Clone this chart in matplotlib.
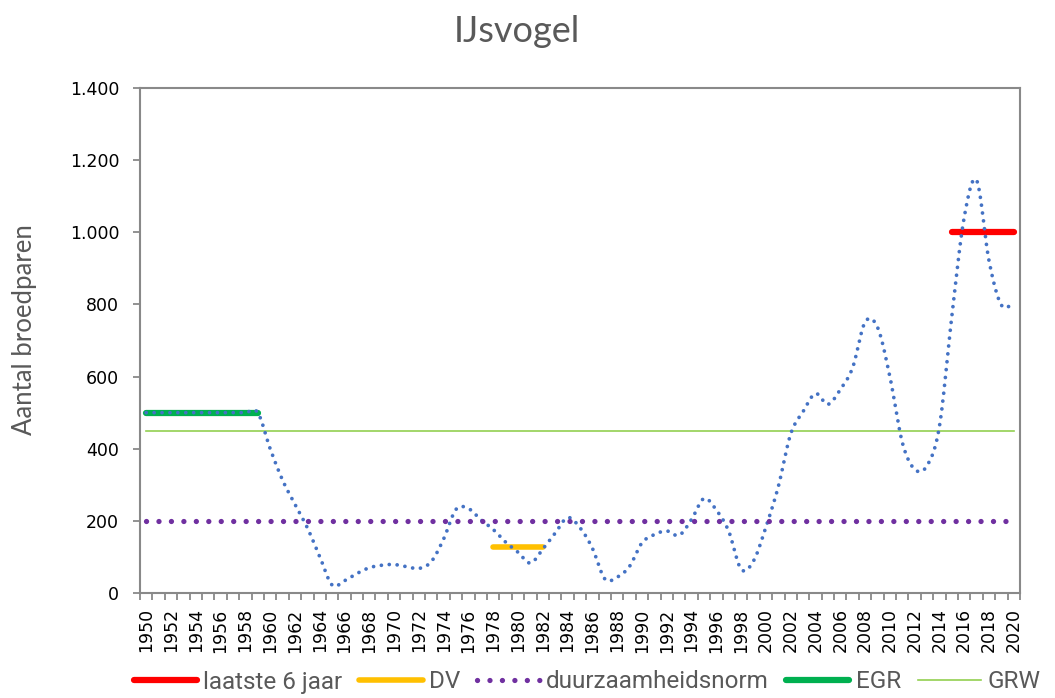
import matplotlib
matplotlib.use('Agg')
import matplotlib.pyplot as plt
from matplotlib.ticker import FuncFormatter, MultipleLocator
import numpy as np

# -------------------------------------------------------------
# data
# -------------------------------------------------------------
years = np.arange(1950, 2021)
broedparen = np.array([
    500, 500, 500, 500, 500, 500, 500, 500, 500, 500,    # 1950-1959
    400, 313, 246, 181, 101, 22, 34, 54, 70, 77,         # 1960-1969
    79, 73, 68, 87, 150, 232, 234, 203, 176, 141,        # 1970-1979
    113, 83, 122, 166, 209, 181, 124, 39, 44, 74,        # 1980-1989
    139, 162, 172, 160, 204, 262, 230, 171, 66, 89,      # 1990-1999
    183, 295, 441, 503, 553, 523, 564, 625, 751, 737,    # 2000-2009
    600, 418, 343, 353, 462, 767, 1042, 1144, 921, 798,  # 2010-2019
    805])                                                # 2020

laatste_jaren = [2015, 2020]
laatste_waarde = 1000
dv_jaren = [1978, 1982]
dv_waarde = 127
egr_jaren = [1950, 1959]
egr_waarde = 500
norm_waarde = 200
grw_waarde = 450

GREY = '#595959'
AXGREY = '#898989'


def excel_smooth(x, y, n=20):
    # Catmull-Rom style bezier, like Excel's "smoothed line"
    x = np.asarray(x, float)
    y = np.asarray(y, float)
    px = np.concatenate([[x[0]], x, [x[-1]]])
    py = np.concatenate([[y[0]], y, [y[-1]]])
    t = np.linspace(0, 1, n, endpoint=False)[:, None]
    xs, ys = [], []
    for i in range(1, len(px) - 2):
        p0 = np.array([px[i - 1], py[i - 1]])
        p1 = np.array([px[i], py[i]])
        p2 = np.array([px[i + 1], py[i + 1]])
        p3 = np.array([px[i + 2], py[i + 2]])
        c1 = p1 + (p2 - p0) / 6
        c2 = p2 - (p3 - p1) / 6
        pts = ((1 - t) ** 3 * p1 + 3 * (1 - t) ** 2 * t * c1
               + 3 * (1 - t) * t ** 2 * c2 + t ** 3 * p2)
        xs.append(pts[:, 0])
        ys.append(pts[:, 1])
    xs.append([x[-1]])
    ys.append([y[-1]])
    return np.concatenate(xs), np.concatenate(ys)


fig = plt.figure(figsize=(10.55, 6.98), dpi=100)
ax = fig.add_axes([140 / 1055, 1 - 593 / 698, 880 / 1055, 505 / 698])

# reference lines
ax.plot(laatste_jaren, [laatste_waarde] * 2, color='#FF0000', lw=4.5,
        solid_capstyle='round', label='laatste 6 jaar', zorder=3)
ax.plot(dv_jaren, [dv_waarde] * 2, color='#FFC000', lw=4.0,
        solid_capstyle='round', label='DV', zorder=3)
ax.plot([years[0], years[-1]], [norm_waarde] * 2, color='#7030A0', lw=3.8,
        linestyle=(0, (0.01, 2.35)), dash_capstyle='round',
        label='duurzaamheidsnorm', zorder=5)
ax.plot(egr_jaren, [egr_waarde] * 2, color='#00B050', lw=4.5,
        solid_capstyle='round', label='EGR', zorder=3)
ax.plot([years[0], years[-1]], [grw_waarde] * 2, color='#92D050', lw=1.2,
        label='GRW', zorder=3)

# the counted series, smoothed dotted line
sx, sy = excel_smooth(years, broedparen)
ax.plot(sx, sy, color='#4472C4', lw=2.7, linestyle=(0, (0.01, 2.1)),
        dash_capstyle='round', zorder=4)

ax.set_xlim(1949.5, 2020.5)
ax.set_ylim(0, 1400)

ax.yaxis.set_major_locator(MultipleLocator(200))
ax.yaxis.set_major_formatter(FuncFormatter(lambda v, p: f'{int(v):,}'.replace(',', '.')))
ax.set_xticks(years)
ax.set_xticklabels([str(y) if y % 2 == 0 else '' for y in years], rotation=90)
ax.set_xticks(np.arange(1949.5, 2021.5, 1), minor=True)

ax.tick_params(axis='y', length=5, width=1.3, color=AXGREY, pad=10,
               labelsize=12.5, labelcolor='black')
ax.tick_params(axis='x', which='major', length=0, pad=11,
               labelsize=12.5, labelcolor='black')
ax.tick_params(axis='x', which='minor', length=5, width=1.3, color=AXGREY)
for lab in ax.get_xticklabels() + ax.get_yticklabels():
    lab.set_family('DejaVu Sans')

for s in ax.spines.values():
    s.set_color(AXGREY)
    s.set_linewidth(1.5)

fig.text(517 / 1055, 1 - 42 / 698, 'IJsvogel', ha='center', va='baseline',
         fontsize=26, color=GREY, family='Lato')
fig.text(25 / 1055, 1 - 330 / 698, 'Aantal broedparen', ha='center', va='center',
         rotation=90, fontsize=18.5, color=GREY, family='Lato')

leg = fig.legend(loc='center left', bbox_to_anchor=(134 / 1055, 1 - 682 / 698),
                 ncol=5, frameon=False, borderpad=0, borderaxespad=0,
                 handlelength=2.6, handletextpad=0.25, columnspacing=0.7,
                 prop={'family': 'Roboto', 'size': 17.5})
for t in leg.get_texts():
    t.set_color(GREY)

fig.savefig('out.png', dpi=100)
